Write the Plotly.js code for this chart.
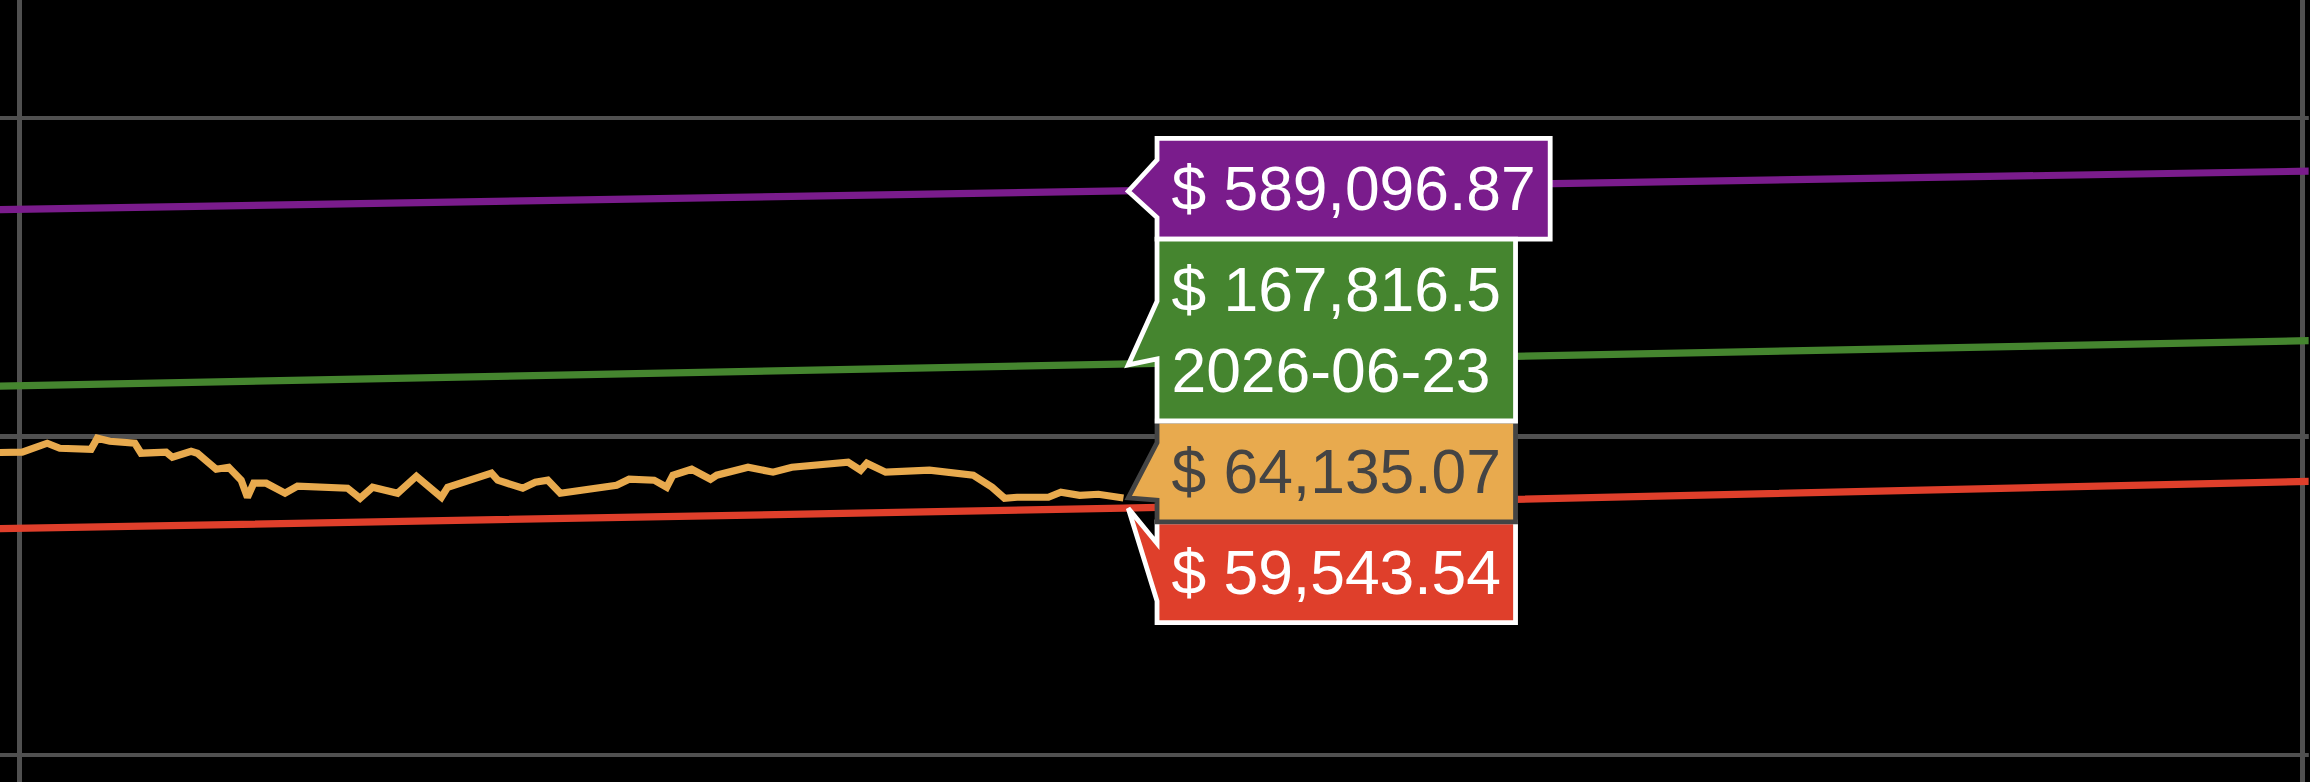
<!DOCTYPE html>
<html>
<head>
<meta charset="utf-8">
<script src="https://cdn.plot.ly/plotly-3.0.1.min.js"></script>
<style>
  html, body { margin: 0; padding: 0; background: #000; overflow: hidden; width: 2310px; height: 782px; }
  #wrap { position: absolute; left: 0; top: 0; width: 481.25px; height: 162.92px; transform-origin: 0 0; }
  #chart { width: 481.25px; height: 162.92px; }
</style>
</head>
<body>
<div id="wrap"><div id="chart"></div></div>
<script>
// ---- data ----
var hoverDate = '2026-06-23';

var modelDates = ['2025-12-25', '2026-06-23', '2026-12-30'];
var topBand    = [515800, 589096.87, 681600];      // purple
var fairValue  = [143900, 167816.5, 200000];       // green
var support    = [51320, 59543.54, 72370];         // red

var priceDates = [
  '2025-12-25','2025-12-29','2026-01-02','2026-01-04','2026-01-09','2026-01-10','2026-01-12',
  '2026-01-16','2026-01-17','2026-01-21','2026-01-22','2026-01-25','2026-01-26','2026-01-29',
  '2026-01-31','2026-02-02','2026-02-03','2026-02-04','2026-02-06','2026-02-09','2026-02-11',
  '2026-02-15','2026-02-19','2026-02-21','2026-02-23','2026-02-25','2026-02-27','2026-03-02',
  '2026-03-06','2026-03-07','2026-03-14','2026-03-15','2026-03-19','2026-03-21','2026-03-23',
  '2026-03-25','2026-03-30','2026-04-03','2026-04-05','2026-04-09','2026-04-11','2026-04-12',
  '2026-04-15','2026-04-18','2026-04-19','2026-04-24','2026-04-28','2026-05-01','2026-05-10',
  '2026-05-12','2026-05-13','2026-05-16','2026-05-23','2026-05-26','2026-05-30','2026-06-02',
  '2026-06-04','2026-06-06','2026-06-09','2026-06-11','2026-06-13','2026-06-16','2026-06-19',
  '2026-06-22','2026-06-23'
];
var priceValues = [
  89070, 89270, 95270, 91890, 91230, 98780, 96660,
  95270, 88620, 89270, 86100, 89910, 88620, 78940,
  80090, 72910, 64470, 71350, 71350, 66360, 69820,
  68810, 68810, 64000, 69310, 67820, 66360, 75050,
  64470, 69310, 76700, 72910, 68810, 71870, 72910,
  66360, 68810, 70310, 73440, 72910, 69310, 75590,
  78940, 73440, 75590, 80090, 77260, 80090, 83050,
  78370, 82450, 77260, 78370, 76700, 75590, 69310,
  64000, 64470, 63540, 64470, 66830, 65400, 65880,
  64940, 64135.07
];

var xGridDates = ['2025-12-28 13:30', '2026-12-28 12:00'];

// ---- styles ----
var C_TOP = '#7a1c8c', C_FAIR = '#45852f', C_PRICE = '#e8aa4e', C_SUP = '#df3f2b';
var LW = 1.5;
var SCALE = 4.8;   // the reference is a 1x Plotly chart shown magnified

var traces = [
  { x: modelDates, y: topBand, type: 'scatter', mode: 'lines', name: 'Top',
    line: { color: C_TOP, width: LW },
    hovertemplate: '$ %{y:,}<extra></extra>' },
  { x: modelDates, y: fairValue, type: 'scatter', mode: 'lines', name: 'Fair value',
    line: { color: C_FAIR, width: LW },
    hovertemplate: '$ %{y:,}<br>%{x|%Y-%m-%d}<extra></extra>' },
  { x: priceDates, y: priceValues, type: 'scatter', mode: 'lines', name: 'Price',
    line: { color: C_PRICE, width: LW },
    hovertemplate: '$ %{y:,}<extra></extra>' },
  { x: modelDates, y: support, type: 'scatter', mode: 'lines', name: 'Support',
    line: { color: C_SUP, width: LW },
    hovertemplate: '$ %{y:,}<extra></extra>' }
];

var layout = {
  width: 481.25, height: 162.92,
  margin: { l: 0, r: 0, t: 0, b: 0, pad: 0 },
  paper_bgcolor: '#000', plot_bgcolor: '#000',
  showlegend: false,
  hovermode: 'x',
  font: { family: 'Liberation Sans, Arial, sans-serif', size: 13, color: '#ccc' },
  hoverlabel: { font: { family: 'Liberation Sans, Arial, sans-serif', size: 13 } },
  xaxis: {
    type: 'date',
    range: ['2025-12-25 10:48', '2026-12-29 10:48'],
    tickvals: xGridDates,
    showticklabels: false, ticks: '',
    showgrid: true, gridcolor: '#505050', gridwidth: 1,
    zeroline: false, showline: false, showspikes: false
  },
  yaxis: {
    type: 'log',
    range: [3.9139, 6.3707],
    dtick: 1,
    showticklabels: false, ticks: '',
    showgrid: true, gridcolor: '#505050', gridwidth: 1,
    zeroline: false, showline: false, showspikes: false
  }
};

var gd = document.getElementById('chart');
Plotly.newPlot(gd, traces, layout, { displayModeBar: false, responsive: false }).then(function () {
  var p = hoverDate.split('-');
  var xms = Date.UTC(+p[0], +p[1] - 1, +p[2]);
  Plotly.Fx.hover(gd, [
    { curveNumber: 0, xval: xms },
    { curveNumber: 1, xval: xms },
    { curveNumber: 2, xval: xms },
    { curveNumber: 3, xval: xms }
  ]);
  document.getElementById('wrap').style.transform = 'scale(' + SCALE + ')';
});
</script>
</body>
</html>
